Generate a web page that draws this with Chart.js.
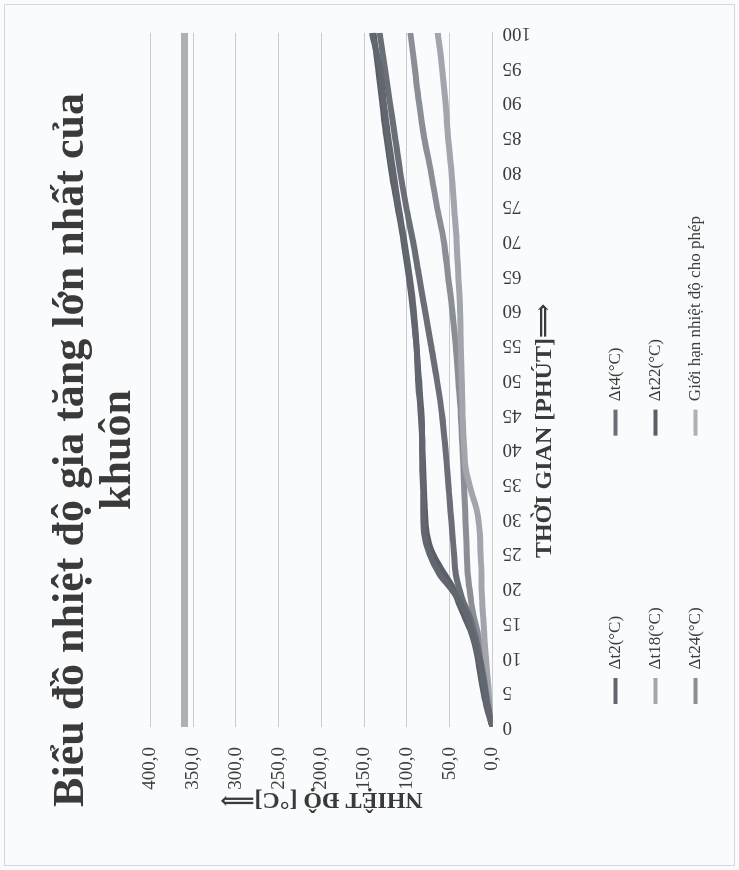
<!DOCTYPE html>
<html>
<head>
<meta charset="utf-8">
<script src="https://cdn.jsdelivr.net/npm/chart.js@4/dist/chart.umd.min.js"></script>
<style>
  html, body { margin: 0; padding: 0; background: #fafbfc; overflow: hidden; }
  #wrap {
    position: absolute; left: 0; top: 0;
    width: 870px; height: 739px;
    transform-origin: 0 0;
    transform: translateY(870px) rotate(-90deg);
  }
  #frame { position: absolute; left: 4px; top: 4px; right: 4px; bottom: 4px; border: 1px solid #d6d8db; pointer-events: none; }
</style>
</head>
<body>
<div id="wrap"><canvas id="myChart" width="870" height="739"></canvas></div>
<div id="frame"></div>
<script>
"use strict";

/* time in minutes */
var times = [0, 3, 6, 9, 12, 14, 16, 18, 20, 22, 25, 28, 31, 34, 37, 40, 45, 50, 55, 60, 65, 70, 75, 80, 85, 90, 95, 100];

/* temperature rise [°C] */
var dt2  = [0, 6, 10, 14, 20, 25, 30, 38, 49, 62, 74, 80, 81, 81, 82, 82, 84, 87, 89, 92, 97, 103, 110, 116, 122, 127, 132, 141];
var dt4  = [0, 5, 9, 13, 18, 22, 27, 34, 39, 43, 45, 47, 49, 51, 53, 55, 59, 65, 72, 79, 86, 93, 101, 108, 114, 120, 126, 132];
var dt18 = [0, 3, 5, 7, 9, 10, 11, 12, 13, 13, 14, 15, 18, 25, 31, 33, 35, 36, 37, 38, 40, 42, 45, 48, 52, 55, 59, 64];
var dt22 = [0, 7, 12, 16, 21, 26, 33, 40, 46, 56, 70, 77, 79, 80, 81, 82, 83, 86, 89, 93, 98, 104, 111, 118, 124, 129, 134, 139];
var dt24 = [0, 5, 8, 11, 15, 18, 22, 25, 27, 29, 30, 31, 32, 33, 34, 35, 37, 40, 43, 47, 52, 57, 65, 72, 80, 86, 91, 96];
var limit = [360, 360, 360, 360, 360, 360, 360, 360, 360, 360, 360, 360, 360, 360, 360, 360, 360, 360, 360, 360, 360, 360, 360, 360, 360, 360, 360, 360];

var seriesNames = ["\u0394t2(\u00b0C)", "\u0394t4(\u00b0C)", "\u0394t18(\u00b0C)", "\u0394t22(\u00b0C)", "\u0394t24(\u00b0C)", "Giới hạn nhiệt độ cho phép"];
var seriesColors = ["#62666e", "#6a6e76", "#a2a6ac", "#5a5e66", "#8a8e95", "#adb0b5"];
var seriesValues = [dt2, dt4, dt18, dt22, dt24, limit];

var chartTitle = ["Biểu đồ nhiệt độ gia tăng lớn nhất của", "khuôn"];
var xTitle = "THỜI GIAN [PHÚT]\u27f9";
var yTitle = "NHIỆT ĐỘ [\u00b0C]\u27f9";

Chart.defaults.font.family = '"Liberation Serif", "DejaVu Serif", serif';
Chart.defaults.color = "#3d3d3d";

function points(vals) {
  return times.map(function (t, i) { return { x: t, y: vals[i] }; });
}

var datasets = seriesValues.map(function (vals, i) {
  return {
    label: seriesNames[i],
    data: points(vals),
    borderColor: seriesColors[i],
    backgroundColor: seriesColors[i],
    borderWidth: i === 5 ? 7 : 6,
    pointRadius: 0,
    pointStyle: "line",
    tension: 0.4,
    cubicInterpolationMode: "monotone",
    fill: false
  };
});

/* title is centred on the plot, shifted a bit toward the start like the original */
var xTitlePad = "";
for (var k = 0; k < 17; k++) xTitlePad += "\u00a0";

var ctx = document.getElementById("myChart");
var myChart = new Chart(ctx, {
  type: "line",
  data: { datasets: datasets },
  options: {
    responsive: false,
    animation: false,
    devicePixelRatio: 1,
    layout: { padding: { top: 0, right: 30, bottom: 25, left: 0 } },
    plugins: {
      title: {
        display: true,
        text: chartTitle,
        color: "#3a3a3a",
        font: { size: 44, weight: "bold", lineHeight: 1.05 },
        padding: { top: 49, bottom: 9 }
      },
      legend: {
        position: "bottom",
        align: "start",
        fullSize: false,
        labels: {
          usePointStyle: true,
          pointStyleWidth: 26,
          padding: 23,
          color: "#3d3d3d",
          font: { size: 17 },
          generateLabels: function (chart) {
            var items = Chart.defaults.plugins.legend.labels.generateLabels(chart);
            chart.ctx.font = '17px "Liberation Serif"';
            items.forEach(function (it) {
              it.lineWidth = 4;
              while (chart.ctx.measureText(it.text).width < 210) {
                it.text += "\u00a0";
              }
            });
            return items;
          }
        }
      },
      tooltip: { enabled: false }
    },
    scales: {
      x: {
        type: "linear",
        min: 0,
        max: 100,
        grid: { display: false, drawTicks: false },
        border: { display: true, color: "#c9cbce", width: 1 },
        ticks: {
          stepSize: 5,
          autoSkip: false,
          minRotation: 90,
          maxRotation: 90,
          padding: 10,
          color: "#3d3d3d",
          font: { size: 19 }
        },
        title: {
          display: true,
          text: xTitle + xTitlePad,
          color: "#3a3a3a",
          font: { size: 24, weight: "bold" },
          padding: { top: 0, bottom: 25 }
        },
        afterFit: function (scale) { scale.height = 91.5; }
      },
      y: {
        min: 0,
        max: 400,
        grid: { color: "#c9cbce", lineWidth: 1, drawTicks: false },
        border: { display: false },
        ticks: {
          stepSize: 50,
          padding: 20,
          color: "#3d3d3d",
          font: { size: 19 },
          callback: function (v) { return v.toFixed(1).replace(".", ","); }
        },
        title: {
          display: true,
          text: yTitle,
          color: "#3a3a3a",
          font: { size: 24, weight: "bold" },
          padding: { top: 56, bottom: 0 }
        },
        afterFit: function (scale) { scale.width = 143; }
      }
    }
  }
});
</script>
</body>
</html>
